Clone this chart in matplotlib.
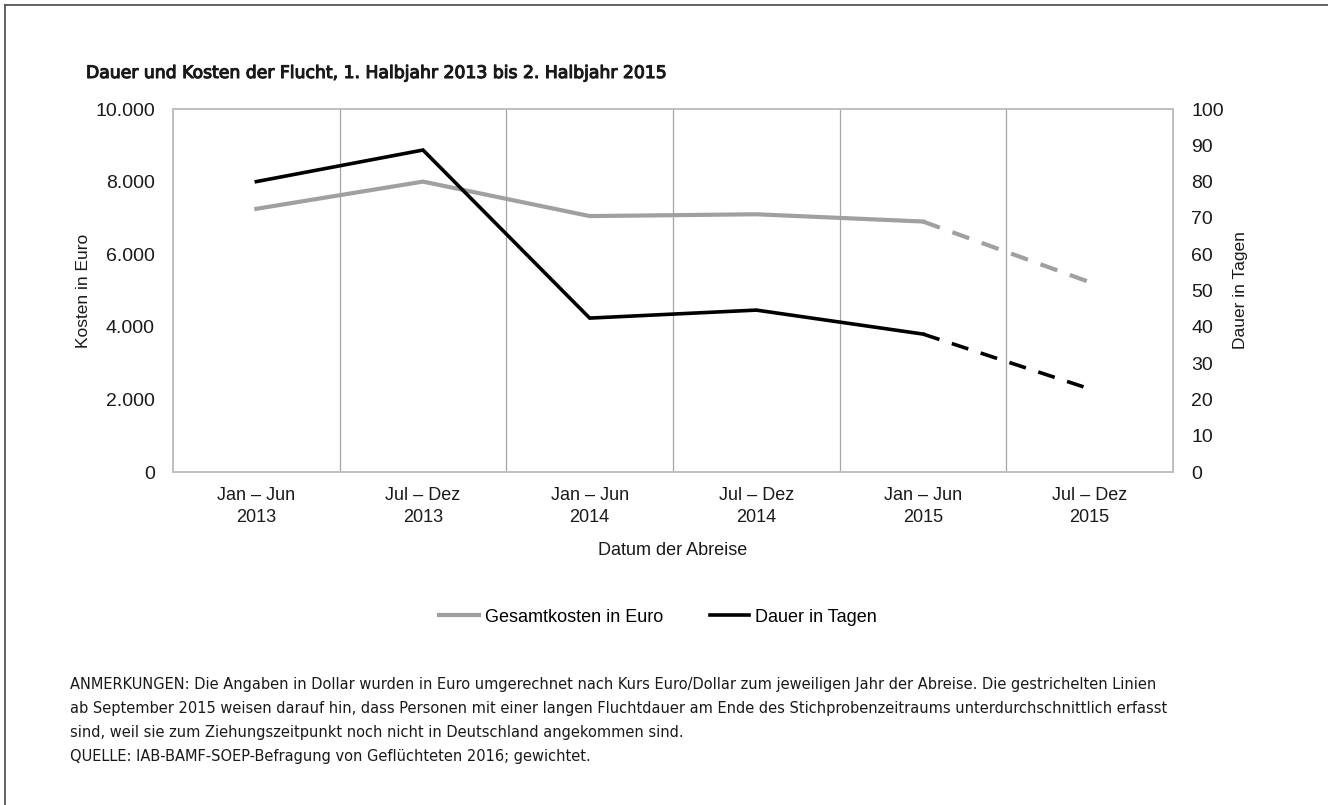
import matplotlib
matplotlib.use("Agg")
import matplotlib.pyplot as plt
import matplotlib.patheffects as pe
from matplotlib.lines import Line2D
from matplotlib.ticker import FuncFormatter, MultipleLocator, FixedLocator

periods = ["Jan – Jun\n2013", "Jul – Dez\n2013", "Jan – Jun\n2014",
           "Jul – Dez\n2014", "Jan – Jun\n2015", "Jul – Dez\n2015"]
kosten = [7250, 8000, 7050, 7100, 6900, 5230]   # Gesamtkosten in Euro
dauer = [80.0, 88.7, 42.4, 44.6, 38.0, 22.9]     # Dauer in Tagen

GRAY, BLACK, INK = "#a0a0a0", "#000000", "#1a1a1a"
FRAME, GRID = "#bfbfbf", "#a6a6a6"
NARROW = ["Liberation Sans Narrow", "DejaVu Sans"]

plt.rcParams["font.family"] = ["Liberation Sans", "DejaVu Sans"]

fig = plt.figure(figsize=(13.28, 8.05), dpi=100)
ax = fig.add_axes([173 / 1328, 1 - 472 / 805, 1000 / 1328, 363 / 805])
ax2 = ax.twinx()

x = list(range(len(periods)))
solid = slice(0, 5)
dash = slice(4, 6)

ax.plot(x[solid], kosten[solid], color=GRAY, lw=3.0, solid_joinstyle="miter", zorder=3)
ax.plot(x[dash], kosten[dash], color=GRAY, lw=3.0, dashes=(4.3, 3.2), zorder=3)
ax2.plot(x[solid], dauer[solid], color=BLACK, lw=2.6, solid_joinstyle="miter", zorder=3)
ax2.plot(x[dash], dauer[dash], color=BLACK, lw=2.6, dashes=(4.8, 3.6), zorder=3)

ax.set_xlim(-0.5, 5.5)
ax.set_ylim(0, 10000)
ax2.set_ylim(0, 100)
ax.yaxis.set_major_locator(MultipleLocator(2000))
ax2.yaxis.set_major_locator(MultipleLocator(10))
ax.yaxis.set_major_formatter(FuncFormatter(lambda v, p: f"{int(v):,}".replace(",", ".")))

ax.set_xticks(x)
ax.set_xticklabels(periods, fontsize=13, color=INK, linespacing=1.35)
ax.xaxis.set_minor_locator(FixedLocator([0.5, 1.5, 2.5, 3.5, 4.5]))
ax.grid(True, which="minor", axis="x", color=GRID, lw=0.9)
ax.set_axisbelow(True)

ax.tick_params(axis="x", which="both", length=0, pad=11)
ax.tick_params(axis="y", length=0, labelsize=14, labelcolor=INK, pad=13)
ax2.tick_params(axis="y", length=0, labelsize=14, labelcolor=INK, pad=13)

for a in (ax, ax2):
    for sp in a.spines.values():
        sp.set_color(FRAME)
        sp.set_linewidth(1.2)

ax.set_ylabel("Kosten in Euro", fontsize=12.5, color=INK, labelpad=3)
ax2.set_ylabel("Dauer in Tagen", fontsize=12.5, color=INK, labelpad=7)
ax.set_xlabel("Datum der Abreise", fontsize=13, color=INK, labelpad=12)

handles = [Line2D([], [], color=GRAY, lw=3.0), Line2D([], [], color=BLACK, lw=2.6)]
fig.legend(handles, ["Gesamtkosten in Euro", "Dauer in Tagen"], loc="center",
           bbox_to_anchor=(658 / 1328, 1 - 617 / 805), ncol=2, frameon=False,
           fontsize=13, handlelength=2.2, handletextpad=0.3, columnspacing=2.6)

fig.text(86 / 1328, 1 - 73 / 805,
         "Dauer und Kosten der Flucht, 1. Halbjahr 2013 bis 2. Halbjahr 2015",
         fontsize=12.4, family=NARROW, color=INK, va="center",
         path_effects=[pe.withStroke(linewidth=0.8, foreground=INK)])

notes = ["ANMERKUNGEN: Die Angaben in Dollar wurden in Euro umgerechnet nach Kurs Euro/Dollar zum jeweiligen Jahr der Abreise. Die gestrichelten Linien",
         "ab September 2015 weisen darauf hin, dass Personen mit einer langen Fluchtdauer am Ende des Stichprobenzeitraums unterdurchschnittlich erfasst",
         "sind, weil sie zum Ziehungszeitpunkt noch nicht in Deutschland angekommen sind.",
         "QUELLE: IAB-BAMF-SOEP-Befragung von Geflüchteten 2016; gewichtet."]
for i, line in enumerate(notes):
    fig.text(70 / 1328, 1 - (684 + i * 24) / 805, line, fontsize=10.5,
             family=NARROW, color=INK, va="center")

# outer frame (left and top edges)
fig.add_artist(Line2D([5 / 1328, 5 / 1328], [0, 1 - 5 / 805], color="#555555", lw=1.3))
fig.add_artist(Line2D([5 / 1328, 1], [1 - 5 / 805, 1 - 5 / 805], color="#555555", lw=1.3))

fig.savefig("out.png", dpi=100)
